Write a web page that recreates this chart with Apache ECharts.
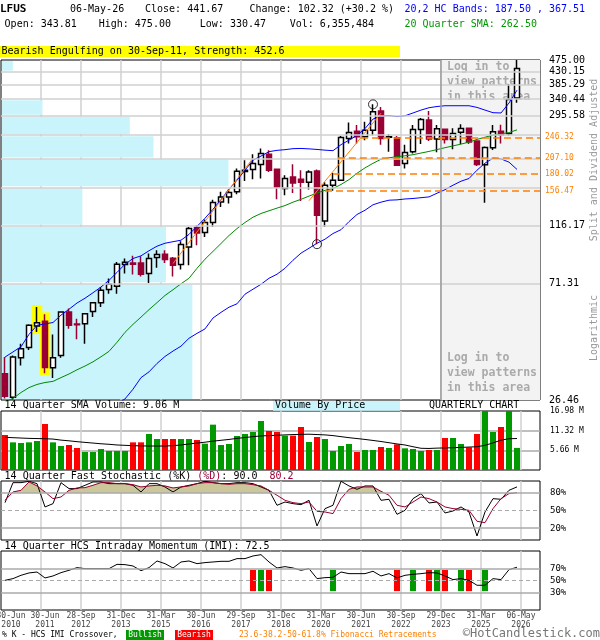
<!DOCTYPE html>
<html><head><meta charset="utf-8">
<script src="https://cdn.jsdelivr.net/npm/echarts@6/dist/echarts.min.js"></script>
<style>html,body{margin:0;padding:0;background:#fff}#c{width:600px;height:640px}</style>
</head><body><div id="c"></div>
<script>
// ---- quarterly OHLC, 2010Q2 .. 2026Q2 ----
const OPEN  = [33.1,27.1,37.9,41.3,49.6,51.6,34.8,38.6,55.9,50.5,50.6,56.1,60.5,67.6,69.6,83.6,84.7,84.7,77.4,88.7,91.3,88.2,83.6,97.1,114.5,109.7,119.4,142.3,148.5,155.0,184.2,187.4,195.6,213.5,187.9,159.5,176.0,172.6,168.2,185.2,121.1,164.0,171.1,244.0,259.6,247.3,261.8,307.8,246.5,245.6,197.3,217.8,263.4,285.1,242.6,263.6,242.0,257.0,265.9,238.9,195.0,225.6,259.6,253.7,343.81];
const CLOSE = [27.3,38.1,40.9,49.9,51.0,34.9,37.9,55.9,49.9,50.1,55.1,60.5,67.2,70.7,83.8,85.2,83.8,77.0,88.0,91.0,87.2,83.1,99.1,113.5,109.4,119.4,141.6,148.5,154.2,184.7,186.3,197.3,214.8,186.3,161.7,173.6,167.2,168.2,183.6,127.1,164.0,171.1,246.1,256.7,247.3,261.8,305.9,244.0,247.5,194.5,216.6,263.4,286.8,242.6,264.8,242.0,254.6,265.2,236.5,195.6,226.0,258.0,252.0,339.35,441.67];
const LOW   = [26.8,26.6,35.5,40.5,47.1,33.2,31.9,37.9,48.5,44.3,42.7,53.5,58.3,65.3,65.3,77.4,76.8,75.6,71.4,81.4,84.7,75.6,80.1,83.1,98.5,105.7,114.9,136.4,140.4,151.9,170.1,172.6,173.6,183.6,145.6,150.7,153.6,143.5,158.1,99.4,114.9,156.3,170.0,233.8,233.8,240.5,250.9,231.4,217.8,192.9,189.0,214.8,232.6,238.5,217.2,233.8,222.8,232.6,232.6,192.9,141.4,221.4,233.8,250.4,330.47];
const HIGH  = [38.1,38.6,42.7,50.3,58.3,54.8,46.2,56.2,57.5,52.8,55.3,60.8,69.1,74.2,85.5,88.0,90.0,89.7,91.8,94.4,94.4,89.2,101.9,114.9,116.8,122.5,145.1,155.0,158.1,189.0,202.9,213.5,224.1,220.9,189.0,178.5,196.1,186.3,186.3,187.6,168.2,182.1,248.9,279.6,273.2,280.9,325.9,318.6,253.0,248.9,231.4,273.2,290.0,307.8,273.2,264.5,266.3,275.5,266.3,240.0,227.9,273.2,274.2,387.3,475.00];
// volume, millions
const VOLUME = [10.07,7.96,7.77,7.96,8.35,13.24,7.96,6.91,7.20,6.33,5.18,5.18,6.04,5.47,5.47,5.47,7.96,7.96,10.36,8.92,8.92,8.92,8.92,8.92,8.63,7.58,13.05,7.20,7.48,9.79,10.36,10.94,14.10,11.22,10.94,9.88,9.88,12.38,8.06,9.50,8.92,5.47,6.91,7.48,5.18,5.76,5.76,6.62,6.33,7.39,6.24,6.04,5.47,5.76,5.76,9.21,9.21,7.48,6.52,10.36,17.5,10.94,12.38,17.5,6.355484];
const VOL_SMA = [9.4,9.3,9.2,9.1,9.05,9.0,8.9,8.6,8.4,8.15,7.95,7.75,7.55,7.4,7.2,7.1,7.0,6.95,6.9,6.9,6.9,7.0,7.2,7.5,7.75,8.0,8.3,8.55,8.8,9.1,9.35,9.6,9.8,9.9,10.0,10.1,10.2,10.25,10.3,10.2,10.1,9.9,9.6,9.3,9.05,8.8,8.5,8.2,7.85,7.5,7.2,6.7,6.25,6.2,6.3,6.35,6.4,6.5,6.6,6.7,7.1,7.8,8.6,9.0,9.06];
// 20 quarter SMA and 20,2 bands
const SMA20 = [26.0,26.8,28.2,29.4,30.2,30.7,31.0,32.0,33.0,34.2,35.3,36.6,38.2,40.0,43.2,47.0,50.3,53.5,57.0,60.5,64.3,67.5,71.0,74.4,81.0,87.5,93.5,100.0,107.0,113.5,119.5,125.0,129.0,132.0,135.0,138.0,142.0,145.5,149.5,153.5,157.0,159.5,165.0,172.0,181.5,190.0,197.5,204.5,207.0,209.0,210.5,212.5,215.5,218.5,222.0,225.5,229.0,232.5,236.5,242.0,246.5,251.0,253.5,256.5,262.5];
const UPPER = [38.1,39.8,41.6,46.2,49.9,50.5,51.1,54.4,57.2,60.3,62.8,65.8,69.1,73.1,78.2,83.8,88.0,90.0,94.0,97.7,100.2,101.5,102.8,108.0,115.6,123.9,133.7,145.0,158.5,171.1,186.3,202.9,210.0,218.1,220.5,221.8,223.7,224.1,223.3,222.2,220.9,219.9,231.4,240.5,250.4,265.2,287.6,295.0,296.3,293.7,295.7,302.9,310.4,316.7,320.0,322.1,322.1,322.1,322.1,317.6,310.4,303.6,302.9,329.6,367.51];
const LOWER = [16.0,16.8,17.5,18.0,18.5,19.0,19.5,20.0,20.6,21.2,22.0,22.8,23.6,24.4,25.5,26.7,29.0,32.0,33.6,36.1,38.3,40.1,41.8,44.7,46.6,48.4,53.1,55.7,58.2,59.9,65.0,67.8,70.7,74.4,77.0,81.0,86.7,92.1,96.0,100.2,103.7,108.8,112.4,120.4,127.9,132.6,138.9,142.0,144.4,144.8,145.9,146.5,147.5,148.5,153.2,157.9,164.0,169.7,173.6,186.3,197.8,206.3,205.1,199.5,187.50];
// 14 quarter fast stochastic and IMI (%)
const STOCH_K = [63.3,97.2,97.2,99.5,95.5,56.0,61.6,97.2,87.1,87.1,92.7,98.4,98.4,95.5,95.5,95.5,92.7,81.4,95.5,95.5,89.9,81.4,89.9,92.7,95.5,99.5,97.2,95.5,95.5,97.2,97.2,95.5,89.9,84.2,58.8,64.4,61.6,59.9,67.3,23.8,53.2,58.8,99.5,91.6,85.9,91.6,91.6,67.3,69.0,43.5,50.3,70.1,78.6,62.8,64.4,45.8,49.2,56.0,47.5,6.8,47.5,70.1,69.0,84.2,90.0];
const STOCH_D = [67.3,81.4,84.2,98.4,91.6,81.4,70.1,72.9,84.2,88.2,88.7,92.7,97.2,97.2,95.5,95.5,93.8,89.9,91.6,92.7,91.6,88.2,89.9,91.6,95.5,97.2,97.2,95.5,94.4,95.5,95.5,93.8,91.6,84.2,75.8,67.3,63.3,61.6,64.4,48.6,47.5,44.7,70.1,85.9,89.9,89.9,89.9,82.5,75.8,58.8,56.0,64.4,72.9,70.1,64.4,56.0,53.2,52.0,50.3,31.7,29.4,53.2,70.1,78.6,80.2];
const STOCH_FILL_LEVEL = 80;
const IMI = [50.3,53.2,58.8,62.8,64.4,54.3,57.7,63.3,67.3,71.8,70.1,70.1,70.1,70.1,77.4,76.9,74.6,66.7,71.8,83.1,78.6,71.2,81.4,83.1,78.6,80.3,81.4,82.5,82.5,87.1,87.1,91.6,93.8,81.4,71.2,73.5,71.2,67.3,70.1,53.2,54.8,55.4,64.4,61.6,61.6,61.6,65.6,57.7,61.6,54.3,58.8,60.5,61.6,63.3,62.8,57.7,51.5,53.2,50.3,41.9,41.9,53.2,51.5,68.4,72.5];
const IMI_CROSS_IDX  = [31,32,33,41,49,51,53,54,55,57,58,60];
const IMI_CROSS_TYPE = ['bear','bull','bear','bull','bear','bull','bear','bull','bear','bull','bear','bull'];
const IMI_MARK_RANGE = [32, 68];
// price axis levels (linear steps, drawn on log scale)
const PRICE_GRID = [26.46,71.31,116.17,161.02,205.87,250.73,295.58,340.44,385.29,430.15,475.00];
const PRICE_LABELS = [475.00,430.15,385.29,340.44,295.58,116.17,71.31,26.46];
const VBP = [35.5,30.6,15.1,42.2,28.3,23.9,7.7,0,0,2.2]; // volume by price, bottom band to top band (relative)
const FIB_LEVELS = [246.32,207.10,180.02,156.47];
const FIB_START  = [44.5,41.6,41.0,40.0];
const TREND_A = [[21,84.3],[31,206.4]];
const TREND_B = [[38,143.8],[47,302.5]];
const PIVOTS = [[39,99.4],[46,325.9]];
const HIGHLIGHT_IDX = [4,5];
const X_LABELS = ['30-Jun 2010','30-Jun 2011','28-Sep 2012','31-Dec 2013','31-Mar 2015','30-Jun 2016','29-Sep 2017','31-Dec 2018','31-Mar 2020','30-Jun 2021','30-Sep 2022','29-Dec 2023','31-Mar 2025','06-May 2026'];
const LOGIN_START = 54.5;

const N = OPEN.length;
const X_MIN = -0.5, X_MAX = 66.875;
const FONT = "'DejaVu Sans Mono', monospace";
const idx = a => a.map((v, i) => [i, v]);

const chart = echarts.init(document.getElementById('c'), null, {renderer: 'canvas'});

const xBase = (gi, extra) => Object.assign({
  type: 'value', gridIndex: gi, min: X_MIN, max: X_MAX, interval: 5,
  axisLine: {show: false}, axisTick: {show: false}, axisLabel: {show: false},
  splitLine: {show: true, showMinLine: false, showMaxLine: false, lineStyle: {color: '#d0d0d0', width: 1.5}}
}, extra || {});
const gridBase = (top, height) => ({left: 1, right: 60, top, height, show: true, borderColor: '#000', borderWidth: 1, backgroundColor: 'transparent', outerBoundsMode: 'none', containLabel: false});
const pctAxis = (gi, shown) => ({
  type: 'value', gridIndex: gi, min: 0, max: 100, interval: 10, position: 'right',
  axisLine: {show: false}, axisTick: {show: false}, splitLine: {show: false},
  axisLabel: {show: true, margin: 10, align: 'left', color: '#000', fontSize: 9, fontFamily: FONT,
    formatter: v => shown.includes(v) ? v + '%' : ''}
});
const refLines = (solid, dashed) => ({
  silent: true, symbol: ['none', 'none'], label: {show: false}, animation: false,
  data: solid.map(v => ({yAxis: v, lineStyle: {color: '#aaaaaa', width: 1.5, type: 'solid'}}))
    .concat(dashed.map(v => ({yAxis: v, lineStyle: {color: '#aaaaaa', width: 1, type: [4, 3]}})))
});
const labelRich = pad => ({fontFamily: FONT, fontSize: 8, lineHeight: 8.5, color: '#444', padding: [0, 0, 0, pad]});
const xLabelFormatter = (wantFirst) => v => {
  const k = (v - X_MIN) / 5;
  const kk = Math.round(k);
  if (Math.abs(k - kk) > 1e-6 || kk >= X_LABELS.length) return '';
  if ((kk === 0) !== wantFirst) return '';
  const parts = X_LABELS[kk].split(' ');
  const st = kk === 0 ? 'f' : (kk === 1 ? 's' : 'n');
  return '{' + st + '|' + parts[0] + '}\n{' + st + '|' + parts[1] + '}';
};
const xLabelAxis = (wantFirst) => ({
  type: 'value', gridIndex: 3, position: 'bottom', offset: 0, min: X_MIN, max: X_MAX, interval: 5,
  axisLine: {show: false}, axisTick: {show: false}, splitLine: {show: false},
  axisLabel: {show: true, margin: 2, showMinLabel: wantFirst, showMaxLabel: false, hideOverlap: false,
    color: '#444', fontFamily: FONT, fontSize: 8, formatter: xLabelFormatter(wantFirst),
    rich: {n: labelRich(0), f: labelRich(20), s: labelRich(8)}}
});

const lastVol = Math.round(VOLUME[N - 1] * 1e6).toLocaleString('en-US');
const chg = CLOSE[N - 1] - CLOSE[N - 2];
const txt = (text, x, y, o) => {
  o = o || {};
  return {type: 'text', x, y, z: 100, rotation: o.rot || 0, silent: true,
    style: Object.assign({text, font: (o.weight || 'normal') + ' ' + (o.size || 10) + 'px ' + FONT, fill: o.color || '#000',
      textAlign: o.align || 'left', align: o.align || 'left', textVerticalAlign: 'middle', verticalAlign: 'middle'}, o.style || {})};
};
const rect = (x, y, w, h, fill) => ({type: 'rect', z: 99, silent: true, shape: {x, y, width: w, height: h}, style: {fill}});

const option = {
  animation: false,
  backgroundColor: '#fff',
  grid: [gridBase(60, 340), gridBase(411, 59), gridBase(481, 59), gridBase(551, 59)],
  xAxis: [
    xBase(0),
    {type: 'value', gridIndex: 0, min: 0, max: 100, show: false},
    xBase(1), xBase(2),
    xBase(3),
    xLabelAxis(false),
    xLabelAxis(true)
  ],
  yAxis: [
    {type: 'log', gridIndex: 0, logBase: 10, min: PRICE_GRID[0], max: PRICE_GRID[PRICE_GRID.length - 1],
      axisLine: {show: false}, axisTick: {show: false}, axisLabel: {show: false}, splitLine: {show: false}},
    {type: 'value', gridIndex: 1, min: 0, max: 16.98, interval: 5.66, position: 'right',
      axisLine: {show: false}, axisTick: {show: false},
      splitLine: {show: true, showMinLine: false, showMaxLine: false, lineStyle: {color: '#aaaaaa', width: 1.5}},
      axisLabel: {show: true, margin: 10, align: 'left', color: '#000', fontSize: 8, fontFamily: FONT, padding: [3, 0, 0, 0],
        formatter: v => v === 0 ? '' : v.toFixed(2) + ' M'}},
    pctAxis(2, [20, 50, 80]),
    pctAxis(3, [30, 50, 70])
  ],
  series: [
    // price grid lines + labels
    {type: 'line', xAxisIndex: 0, yAxisIndex: 0, z: 0, data: [], symbol: 'none', silent: true,
      markLine: {silent: true, symbol: ['none', 'none'], animation: false,
        lineStyle: {color: '#d0d0d0', width: 1.5, type: 'solid'},
        data: PRICE_GRID.map((v, k) => ({yAxis: v,
          lineStyle: {color: (k === 0 || k === PRICE_GRID.length - 1) ? 'rgba(0,0,0,0)' : '#d0d0d0', width: 1.5, type: 'solid'},
          label: PRICE_LABELS.includes(v)
            ? {show: true, position: 'end', distance: 9, formatter: v.toFixed(2), color: '#000', fontSize: 10, fontFamily: FONT, padding: [0, 0, 8, 0]}
            : {show: false}}))}},
    // login-restricted area
    {type: 'line', xAxisIndex: 0, yAxisIndex: 0, z: -1, data: [[LOGIN_START, 100]], symbol: 'none', silent: true, lineStyle: {opacity: 0},
      markArea: {silent: true, animation: false,
        data: [
          [{xAxis: LOGIN_START, itemStyle: {color: '#f3f3f3'},
            label: {show: true, position: 'insideTopLeft', distance: 0, offset: [6, 0], formatter: 'Log in to\nview patterns\nin this area',
              color: '#aaaaaa', fontWeight: 'bold', fontSize: 11.5, fontFamily: FONT, lineHeight: 15, align: 'left'}},
           {xAxis: X_MAX}],
          [{xAxis: LOGIN_START, itemStyle: {color: 'rgba(0,0,0,0)'},
            label: {show: true, position: 'insideBottomLeft', distance: 0, offset: [6, -4], formatter: 'Log in to\nview patterns\nin this area',
              color: '#aaaaaa', fontWeight: 'bold', fontSize: 11.5, fontFamily: FONT, lineHeight: 15, align: 'left'}},
           {xAxis: X_MAX}]
        ]},
      markLine: {silent: true, symbol: ['none', 'none'], label: {show: false}, animation: false,
        data: [{xAxis: LOGIN_START, lineStyle: {color: '#999999', width: 1.5, type: 'solid'}}]}},
    // volume by price
    {type: 'custom', xAxisIndex: 1, yAxisIndex: 0, z: 1, silent: true,
      data: VBP.map((w, k) => [w, PRICE_GRID[k], PRICE_GRID[k + 1]]),
      encode: {x: 0, y: [1, 2]},
      renderItem: (params, api) => {
        const w = api.value(0);
        if (!w) return null;
        const p0 = api.coord([0, api.value(1)]);
        const p1 = api.coord([w, api.value(2)]);
        return {type: 'rect', shape: {x: p0[0] + 1, y: p1[1] + 1, width: p1[0] - p0[0] - 1, height: p0[1] - p1[1] - 2}, style: {fill: '#c9f4fb'}};
      }},
    // pattern highlight
    {type: 'custom', xAxisIndex: 0, yAxisIndex: 0, z: 2, silent: true,
      data: HIGHLIGHT_IDX.map(i => [i, LOW[i], HIGH[i]]),
      encode: {x: 0, y: [1, 2]},
      renderItem: (params, api) => {
        const lo = api.coord([api.value(0), api.value(1)]);
        const hi = api.coord([api.value(0), api.value(2)]);
        return {type: 'rect', shape: {x: lo[0] - 5.3, y: hi[1] - 2, width: 10.6, height: lo[1] - hi[1] + 4}, style: {fill: '#ffff00'}};
      }},
    // candles
    {type: 'candlestick', xAxisIndex: 0, yAxisIndex: 0, z: 3, barWidth: 5,
      data: OPEN.map((o, i) => [i, o, CLOSE[i], LOW[i], HIGH[i]]),
      encode: {x: 0, y: [1, 2, 3, 4]},
      itemStyle: {color: '#ffffff', color0: '#990033', borderColor: '#000000', borderColor0: '#990033', borderWidth: 1.5}},
    {type: 'line', name: 'upper', xAxisIndex: 0, yAxisIndex: 0, z: 4, data: idx(UPPER), symbol: 'none', lineStyle: {color: '#0000ff', width: 1}},
    {type: 'line', name: 'sma', xAxisIndex: 0, yAxisIndex: 0, z: 4, data: idx(SMA20), symbol: 'none', lineStyle: {color: '#008800', width: 1}},
    {type: 'line', name: 'lower', xAxisIndex: 0, yAxisIndex: 0, z: 4, data: idx(LOWER), symbol: 'none', lineStyle: {color: '#0000ff', width: 1}},
    {type: 'line', xAxisIndex: 0, yAxisIndex: 0, z: 4, data: TREND_A, symbol: 'none', lineStyle: {color: '#ff8000', width: 1}},
    {type: 'line', xAxisIndex: 0, yAxisIndex: 0, z: 4, data: TREND_B, symbol: 'none', lineStyle: {color: '#ff8000', width: 1}},
    // fibonacci levels
    {type: 'line', xAxisIndex: 0, yAxisIndex: 0, z: 4, data: [], symbol: 'none', silent: true,
      markLine: {silent: true, symbol: ['none', 'none'], animation: false,
        lineStyle: {color: '#ff8000', width: 1.5, type: [7, 4]},
        data: FIB_LEVELS.map((v, k) => [
          {coord: [FIB_START[k], v], label: {show: true, position: 'end', distance: 5, formatter: v.toFixed(2), color: '#ff8000', fontSize: 8, fontFamily: FONT, padding: [0, 0, 2, 0]}},
          {coord: [X_MAX, v]}])}},
    {type: 'scatter', xAxisIndex: 0, yAxisIndex: 0, z: 5, data: PIVOTS, symbol: 'circle', symbolSize: 9,
      itemStyle: {color: 'rgba(0,0,0,0)', borderColor: '#000', borderWidth: 1}},
    // volume
    {type: 'bar', xAxisIndex: 2, yAxisIndex: 1, z: 2, barWidth: 6,
      data: VOLUME.map((v, i) => ({value: [i, v], itemStyle: {color: CLOSE[i] >= OPEN[i] ? '#009900' : '#ff0000'}}))},
    {type: 'line', xAxisIndex: 2, yAxisIndex: 1, z: 3, data: idx(VOL_SMA), symbol: 'none', lineStyle: {color: '#000', width: 1}},
    // stochastic: fill where %D is above the level
    {type: 'custom', xAxisIndex: 3, yAxisIndex: 2, z: 1, silent: true,
      data: STOCH_D.slice(0, -1).map((d, i) => [i, d, STOCH_D[i + 1]]),
      encode: {x: 0, y: [1, 2]},
      renderItem: (params, api) => {
        const i = api.value(0), d0 = api.value(1), d1 = api.value(2), T = STOCH_FILL_LEVEL;
        let pts;
        if (d0 <= T && d1 <= T) return null;
        if (d0 > T && d1 > T) pts = [[i, T], [i, d0], [i + 1, d1], [i + 1, T]];
        else if (d0 > T) pts = [[i, T], [i, d0], [i + (d0 - T) / (d0 - d1), T]];
        else pts = [[i + (T - d0) / (d1 - d0), T], [i + 1, d1], [i + 1, T]];
        return {type: 'polygon', shape: {points: pts.map(p => api.coord(p))}, style: {fill: '#cbc79b', stroke: '#cbc79b', lineWidth: 0.5}};
      }},
    {type: 'line', xAxisIndex: 3, yAxisIndex: 2, z: 2, data: [], symbol: 'none', markLine: refLines([80, 20], [50])},
    {type: 'line', xAxisIndex: 3, yAxisIndex: 2, z: 3, data: idx(STOCH_K), symbol: 'none', lineStyle: {color: '#000', width: 1}},
    {type: 'line', xAxisIndex: 3, yAxisIndex: 2, z: 3, data: idx(STOCH_D), symbol: 'none', lineStyle: {color: '#990033', width: 1}},
    // IMI
    {type: 'line', xAxisIndex: 4, yAxisIndex: 3, z: 1, data: [], symbol: 'none', markLine: refLines([70, 30], [50])},
    {type: 'custom', xAxisIndex: 4, yAxisIndex: 3, z: 2, silent: true,
      data: IMI_CROSS_IDX.map((i, k) => [i, IMI_MARK_RANGE[0], IMI_MARK_RANGE[1], IMI_CROSS_TYPE[k] === 'bull' ? 1 : 0]),
      encode: {x: 0, y: [1, 2]},
      renderItem: (params, api) => {
        const lo = api.coord([api.value(0), api.value(1)]);
        const hi = api.coord([api.value(0), api.value(2)]);
        return {type: 'rect', shape: {x: lo[0] - 3, y: hi[1], width: 6, height: lo[1] - hi[1]},
          style: {fill: api.value(3) === 1 ? '#009900' : '#ff0000'}};
      }},
    {type: 'line', xAxisIndex: 4, yAxisIndex: 3, z: 3, data: idx(IMI), symbol: 'none', lineStyle: {color: '#000', width: 1}}
  ],
  graphic: [
    txt('LFUS', 0, 9.5, {weight: 'bold', size: 11}),
    txt('06-May-26', 70, 9.5),
    txt('Close: ' + CLOSE[N - 1].toFixed(2), 145, 9.5),
    txt('Change: ' + chg.toFixed(2) + ' (+' + (chg / CLOSE[N - 2] * 100).toFixed(1) + ' %)', 249.5, 9.5),
    txt('20,2 HC Bands: ' + LOWER[N - 1].toFixed(2) + ' , ' + UPPER[N - 1].toFixed(2), 404.5, 9.5, {color: '#0000ff'}),
    txt('Open: ' + OPEN[N - 1].toFixed(2), 4.6, 24.5),
    txt('High: ' + HIGH[N - 1].toFixed(2), 98.7, 24.5),
    txt('Low: ' + LOW[N - 1].toFixed(2), 199.8, 24.5),
    txt('Vol: ' + lastVol, 289.7, 24.5),
    txt('20 Quarter SMA: ' + SMA20[N - 1].toFixed(2), 404.5, 24.5, {color: '#009900'}),
    rect(0, 46, 400, 11, '#ffff00'),
    txt('Bearish Engulfing on 30-Sep-11, Strength: 452.6', 1.5, 51.8),
    txt('Split and Dividend Adjusted', 594, 160, {rot: Math.PI / 2, align: 'center', color: '#999999'}),
    txt('Logarithmic', 594, 328, {rot: Math.PI / 2, align: 'center', color: '#999999'}),
    txt('14 Quarter SMA Volume: ' + VOL_SMA[N - 1].toFixed(2) + ' M', 4.6, 405.7),
    rect(273, 401, 127, 9.7, '#c9f4fb'),
    txt('Volume By Price', 275, 405.7),
    txt('QUARTERLY CHART', 429, 405.7),
    txt('14 Quarter Fast Stochastic (%K) {d|(%D)}: ' + STOCH_K[N - 1].toFixed(1) + '  {d|' + STOCH_D[N - 1].toFixed(1) + '}', 4.6, 476.5,
      {style: {rich: {d: {fill: '#990033', font: '10px ' + FONT}}}}),
    txt('14 Quarter HCS Intraday Momentum (IMI): ' + IMI[N - 1].toFixed(1), 4.6, 546.5),
    txt('% K - HCS IMI Crossover, ', 2, 635, {size: 8}),
    rect(126, 630, 38, 10, '#009900'),
    txt('Bullish', 145, 635, {size: 8, color: '#fff', align: 'center'}),
    rect(175, 630, 38, 10, '#ff0000'),
    txt('Bearish', 194, 635, {size: 8, color: '#fff', align: 'center'}),
    txt('23.6-38.2-50-61.8% Fibonacci Retracements', 239, 635, {size: 8, color: '#ff8000'}),
    txt('\u00a9HotCandlestick.com', 600, 634, {size: 12, color: '#777777', align: 'right'})
  ]
};
chart.setOption(option);
</script>
</body></html>
